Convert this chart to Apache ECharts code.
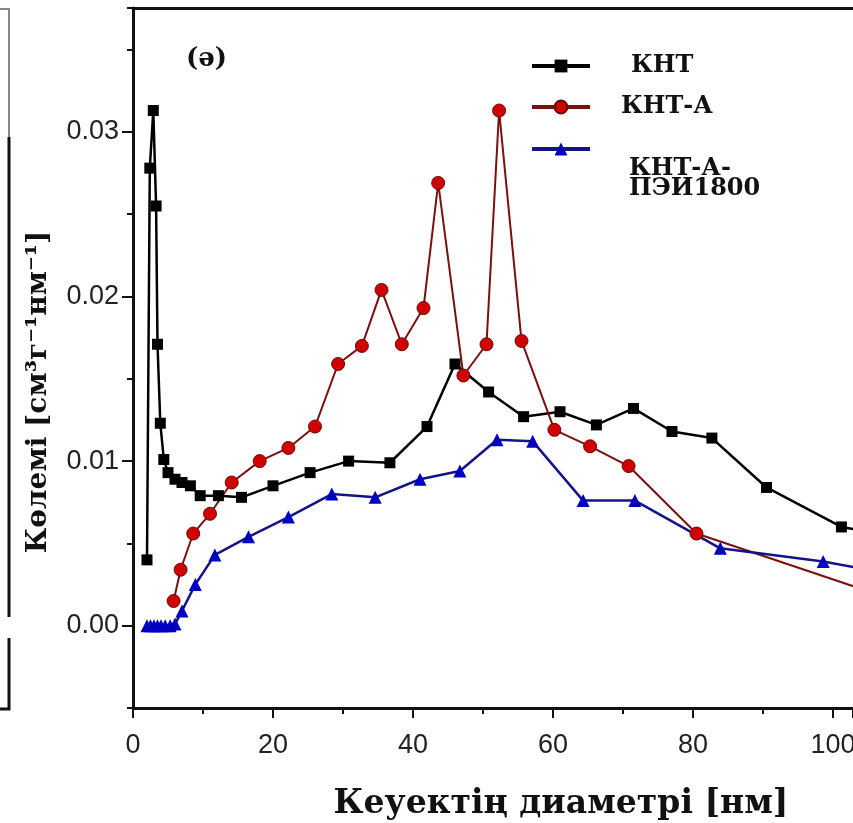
<!DOCTYPE html>
<html>
<head>
<meta charset="utf-8">
<script src="https://cdn.jsdelivr.net/npm/echarts@6/dist/echarts.min.js"></script>
<style>
  html, body { margin: 0; padding: 0; background: #fff; }
  #chart { width: 853px; height: 823px; }
</style>
</head>
<body>
<div id="chart"></div>
<script>
// pore diameter [nm] / volume [cm3 g-1 nm-1]
const kntX = [2.0, 2.4, 2.9, 3.3, 3.5, 3.9, 4.4, 5.0, 6.0, 7.0, 8.2, 9.6, 12.2, 15.5, 20.0, 25.3, 30.8, 36.7, 42.0, 46.0, 50.8, 55.8, 61.0, 66.2, 71.5, 77.0, 82.7, 90.5, 101.2, 108];
const kntY = [0.0040, 0.0278, 0.0313, 0.0255, 0.0171, 0.0123, 0.0101, 0.0093, 0.0089, 0.0087, 0.0085, 0.0079, 0.0079, 0.0078, 0.0085, 0.0093, 0.0100, 0.0099, 0.0121, 0.0159, 0.0142, 0.0127, 0.0130, 0.0122, 0.0132, 0.0118, 0.0114, 0.0084, 0.0060, 0.0055];

const kntAX = [5.8, 6.8, 8.6, 11.0, 14.1, 18.1, 22.2, 26.0, 29.3, 32.7, 35.5, 38.4, 41.5, 43.6, 47.2, 50.5, 52.3, 55.5, 60.2, 65.3, 70.8, 80.5, 105];
const kntAY = [0.0015, 0.0034, 0.0056, 0.0068, 0.0087, 0.0100, 0.0108, 0.0121, 0.0159, 0.0170, 0.0204, 0.0171, 0.0193, 0.0269, 0.0152, 0.0171, 0.0313, 0.0173, 0.0119, 0.0109, 0.0097, 0.0056, 0.0021];

const peiX = [2.0, 2.5, 3.0, 3.5, 4.0, 4.6, 5.3, 6.0, 7.0, 8.9, 11.7, 16.5, 22.2, 28.4, 34.6, 41.0, 46.7, 52.0, 57.1, 64.3, 71.7, 83.9, 98.6, 105];
const peiY = [0.0000, 0.0000, 0.0000, 0.0000, 0.0000, 0.0000, 0.0000, 0.0001, 0.0009, 0.0025, 0.0043, 0.0054, 0.0066, 0.0080, 0.0078, 0.0089, 0.0094, 0.0113, 0.0112, 0.0076, 0.0076, 0.0047, 0.0039, 0.0034];

const seriesNames = ['КНТ', 'КНТ-А', 'КНТ-А-ПЭИ1800'];
const yLabelValues = [0, 0.01, 0.02, 0.03];

const zip = (xs, ys) => xs.map((x, i) => [x, ys[i]]);

const serifBold = '"DejaVu Serif", "Liberation Serif", serif';
const sans = '"Liberation Sans", Arial, sans-serif';
const legendText = { fontFamily: serifBold, fontWeight: 'bold', fontSize: 24, color: '#111' };
const legendLine = { width: 4 };

const myChart = echarts.init(document.getElementById('chart'));

const options = {
  animation: false,
  backgroundColor: '#fff',
  grid: { left: 133, top: 8, right: 0, bottom: 115, containLabel: false, outerBoundsMode: 'none' },
  title: {
    text: '(ә)', left: 181, top: 41,
    textStyle: { fontFamily: serifBold, fontWeight: 'bold', fontSize: 26, color: '#111' }
  },
  legend: [
    {
      data: [seriesNames[0]], left: 525, top: 49, itemWidth: 58, itemHeight: 16,
      lineStyle: legendLine,
      textStyle: Object.assign({}, legendText, { padding: [0, 0, 0, 36] })
    },
    {
      data: [seriesNames[1]], left: 525, top: 90, itemWidth: 58, itemHeight: 16,
      lineStyle: legendLine,
      textStyle: Object.assign({}, legendText, { padding: [0, 0, 0, 26] })
    },
    {
      data: [seriesNames[2]], left: 525, top: 92, itemWidth: 58, itemHeight: 16,
      lineStyle: legendLine,
      formatter: () => '\n\n\nКНТ-А-\nПЭИ1800',
      textStyle: Object.assign({}, legendText, { lineHeight: 20, padding: [0, 0, 0, 34] })
    }
  ],
  xAxis: [
    {
      type: 'value', min: 0, max: 720 / 7, interval: 20,
      name: 'Кеуектің диаметрі [нм]', nameLocation: 'middle', nameGap: 80,
      nameTextStyle: { fontFamily: serifBold, fontWeight: 'bold', fontSize: 33, color: '#111', padding: [0, 0, 0, 136] },
      axisLine: { onZero: false, lineStyle: { color: '#111', width: 3 } },
      axisTick: { inside: false, length: 10, lineStyle: { width: 2, color: '#111' } },
      minorTick: { show: true, splitNumber: 2, length: 6, lineStyle: { width: 2, color: '#111' } },
      axisLabel: {
        fontFamily: sans, fontSize: 27, color: '#222', margin: 24,
        formatter: v => (Math.abs(v % 20) < 1e-6 ? String(v) : '')
      },
      splitLine: { show: false }
    },
    {
      type: 'value', position: 'top', min: 0, max: 720 / 7,
      axisLine: { show: true, onZero: false, lineStyle: { color: '#111', width: 3 } },
      axisTick: { show: false }, axisLabel: { show: false }, splitLine: { show: false }
    }
  ],
  yAxis: [
    {
      type: 'value', min: -0.005, max: 0.03753, interval: 0.005,
      name: 'Көлемі [см³г⁻¹нм⁻¹]', nameLocation: 'middle', nameGap: 80,
      nameTextStyle: { fontFamily: serifBold, fontWeight: 'bold', fontSize: 28, color: '#111', padding: [0, 68, 0, 0] },
      axisLine: { show: true, onZero: false, lineStyle: { color: '#111', width: 3 } },
      axisTick: { inside: false, length: 6, lineStyle: { width: 2, color: '#111' } },
      axisLabel: {
        fontFamily: sans, fontSize: 27, color: '#222', margin: 14,
        customValues: yLabelValues,
        formatter: v => v.toFixed(2)
      },
      splitLine: { show: false }
    },
    {
      type: 'value', min: -0.005, max: 0.03753, position: 'left',
      axisLine: { show: false, onZero: false },
      axisTick: { show: true, inside: false, length: 11, customValues: yLabelValues, lineStyle: { width: 2, color: '#111' } },
      axisLabel: { show: false },
      splitLine: { show: false }
    }
  ],
  series: [
    {
      name: seriesNames[0], type: 'line', data: zip(kntX, kntY),
      symbol: 'rect', symbolSize: 11, clip: true,
      lineStyle: { color: '#000', width: 2.5 },
      itemStyle: { color: '#000' }
    },
    {
      name: seriesNames[1], type: 'line', data: zip(kntAX, kntAY),
      symbol: 'circle', symbolSize: 13, clip: true,
      lineStyle: { color: '#7a1010', width: 2 },
      itemStyle: { color: '#d00000', borderColor: '#6a0a0a', borderWidth: 1 }
    },
    {
      name: seriesNames[2], type: 'line', data: zip(peiX, peiY),
      symbol: 'triangle', symbolSize: 13, clip: true,
      lineStyle: { color: '#14148a', width: 2.5 },
      itemStyle: { color: '#0000c0' }
    }
  ],
  graphic: [
    // edge of the neighbouring panel
    { type: 'polyline', shape: { points: [[0, 9], [9, 9], [9, 137]] }, style: { stroke: '#888', lineWidth: 2, fill: null } },
    { type: 'line', shape: { x1: 9, y1: 137, x2: 9, y2: 617 }, style: { stroke: '#111', lineWidth: 3 } },
    { type: 'polyline', shape: { points: [[9, 638], [9, 709], [0, 709]] }, style: { stroke: '#111', lineWidth: 3, fill: null } }
  ]
};

myChart.setOption(options);
</script>
</body>
</html>
